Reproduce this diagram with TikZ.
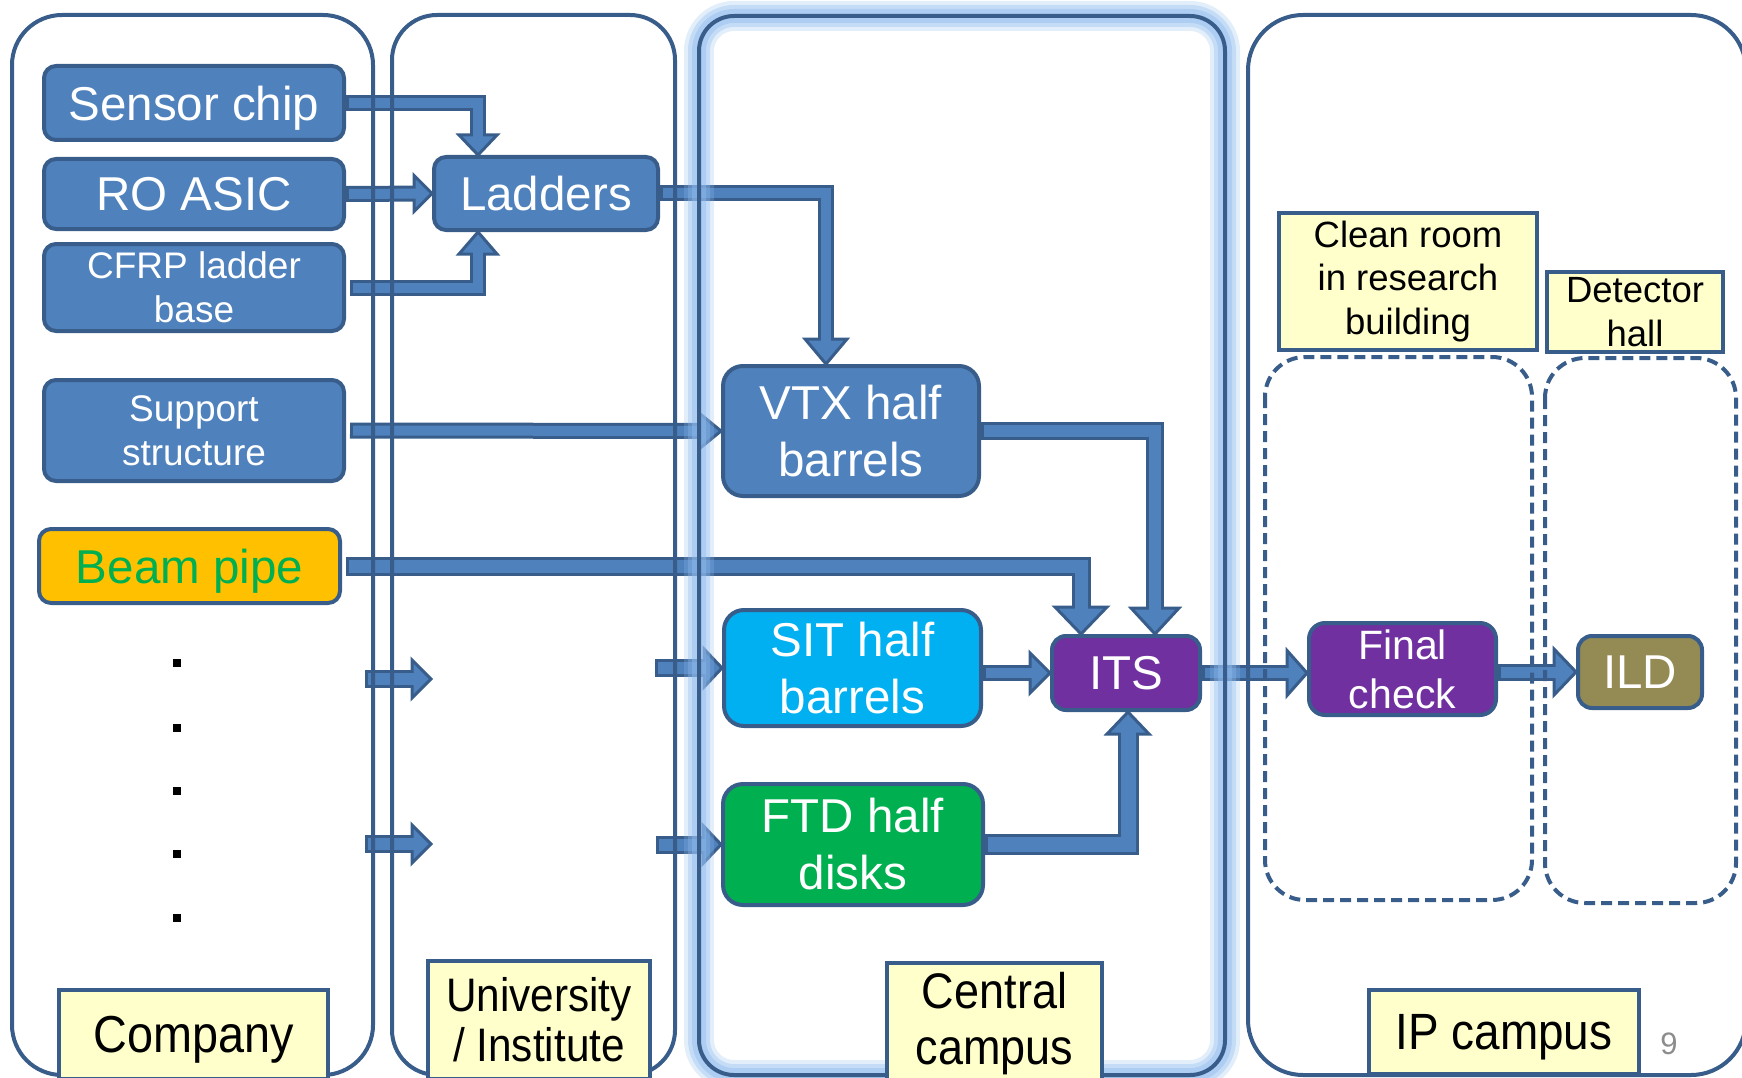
\documentclass[tikz,border=0pt]{standalone}
\usepackage{fontspec}
\setmainfont{Liberation Sans}
\newfontfamily\tagfont[FakeStretch=0.9]{Liberation Sans}
\usetikzlibrary{calc}

\definecolor{edge}{HTML}{385D8A}
\definecolor{boxblue}{HTML}{4F81BD}
\definecolor{sitfill}{HTML}{00B0F0}
\definecolor{ftdfill}{HTML}{00B050}
\definecolor{purp}{HTML}{7030A0}
\definecolor{ildfill}{HTML}{948A54}
\definecolor{beamfill}{HTML}{FFC000}
\definecolor{beamtext}{HTML}{00B050}
\definecolor{tagfill}{HTML}{FFFFCC}
\definecolor{glowblue}{HTML}{8FBBEE}
\definecolor{numgray}{HTML}{8C8C8C}

\tikzset{
  blk/.style={draw=edge, line width=4pt, fill=boxblue, text=white, inner sep=0pt,
    align=center, rounded corners=12pt},
  big/.style={font=\fontsize{47.5}{57}\selectfont},
  mid/.style={font=\fontsize{37}{44}\selectfont},
  one/.style={text depth=0pt},
  panel/.style={draw=edge, line width=4pt},
  zone/.style={draw=edge, line width=4pt, dash pattern=on 11pt off 6pt, rounded corners=40pt},
  tag/.style={draw=edge, line width=4pt, fill=tagfill, text=black, inner sep=0pt, align=center},
  shaftedge/.style={draw=edge, line join=miter, line cap=butt},
  shaftcore/.style={draw=boxblue, line join=miter, line cap=butt},
  headshape/.style={draw=edge, fill=boxblue, line width=3pt, line join=miter},
  glow/.style={draw=glowblue, rounded corners=35pt},
}

% Block arrow: #1 route, #2 tip point, #3 direction angle,
% #4 shaft width, #5 head width, #6 head length
\newcommand\flowarrow[6]{%
  \pgfmathsetmacro\arinner{#4-6}%
  \pgfmathsetmacro\arback{#6-0.5}%
  \pgfmathsetmacro\arcore{#6-5}%
  \pgfmathsetmacro\arhalf{#5/2}%
  \draw[shaftedge, line width=#4pt, shorten >=\arback pt] #1;
  \filldraw[headshape, shift={#2}, rotate=#3] (0,0) -- (-#6,\arhalf) -- (-#6,-\arhalf) -- cycle;
  \draw[shaftcore, line width=\arinner pt, shorten <=3pt, shorten >=\arcore pt] #1;
}

\begin{document}
\begin{tikzpicture}[x=1pt, y=-1pt]
\path[use as bounding box] (0,0) rectangle (1742,1078);
\clip (0,0) rectangle (1742,1078);

% component boxes
\node[blk, big, one, minimum width=300pt, minimum height=74pt] (sensor) at (194,103) {Sensor chip};
\node[blk, big, one, minimum width=300pt, minimum height=70pt] (roasic) at (194,194) {RO ASIC};
\node[blk, mid, minimum width=300pt, minimum height=87pt] (cfrp) at (194,287.5) {CFRP ladder\\base};
\node[blk, mid, minimum width=300pt, minimum height=101pt] (support) at (194,430.5) {Support\\structure};
\node[blk, big, one, fill=beamfill, text=beamtext, minimum width=301pt, minimum height=74pt] (beam) at (189.5,566) {Beam pipe};
\node[blk, big, one, minimum width=224pt, minimum height=73pt] (ladders) at (546,193.5) {Ladders};
\node[blk, big, rounded corners=20pt, minimum width=256pt, minimum height=130pt] (vtx) at (851,431) {VTX half\\barrels};
\node[blk, big, rounded corners=20pt, fill=sitfill, minimum width=257pt, minimum height=116pt] (sit) at (852.5,668) {SIT half\\barrels};
\node[blk, big, rounded corners=20pt, fill=ftdfill, minimum width=260pt, minimum height=121pt] (ftd) at (853,844.5) {FTD half\\disks};
\node[blk, big, one, rounded corners=14pt, fill=purp, minimum width=148pt, minimum height=74pt] (its) at (1126,673) {ITS};
\node[blk, font=\fontsize{41}{49}\selectfont, rounded corners=16pt, fill=purp, minimum width=187pt, minimum height=92pt] (final) at (1402.5,669) {Final\\check};
\node[blk, big, one, rounded corners=14pt, fill=ildfill, minimum width=124pt, minimum height=72pt] (ild) at (1640,672) {ILD};

% arrow end points
\coordinate (ladTop) at ($(ladders.north west)+(46,0)$);
\coordinate (ladBot) at ($(ladders.south west)+(46,0)$);
\coordinate (vtxTop) at ($(vtx.north west)+(105,0)$);
\coordinate (itsTopA) at ($(its.north west)+(31,0)$);
\coordinate (itsTopB) at ($(its.north west)+(105,0)$);
\coordinate (itsBot) at ($(its.south west)+(78,0)$);
\coordinate (cuA) at (365,679);
\coordinate (cuB) at (431,679);
\coordinate (cuC) at (365,844);
\coordinate (cuD) at (431,844);
\coordinate (sitIn) at ($(sit.west)+(-67,0)$);
\coordinate (ftdIn) at ($(ftd.west)+(-65,0)$);

% flow arrows
\flowarrow{(sensor.east) -| (ladTop)}{(ladTop)}{-90}{16}{38}{20}
\flowarrow{(roasic.east) -- (ladders.west)}{(ladders.west)}{0}{16}{36}{18}
\flowarrow{($(cfrp.east)+(4,0)$) -| (ladBot)}{(ladBot)}{90}{16}{38}{22}
\flowarrow{(ladders.east) -| (vtxTop)}{(vtxTop)}{-90}{16}{42}{25}
\flowarrow{($(support.east)+(4,0)$) -- (vtx.west)}{(vtx.west)}{0}{16}{36}{22}
\flowarrow{(vtx.east) -| (itsTopB)}{(itsTopB)}{-90}{18}{48}{26}
\flowarrow{($(beam.east)+(4,0)$) -| (itsTopA)}{(itsTopA)}{-90}{19}{52}{27}
\flowarrow{(sit.east |- its.west) -- (its.west)}{(its.west)}{0}{16}{40}{20}
\flowarrow{(ftd.east) -| (itsBot)}{(itsBot)}{90}{21}{42}{22}
\flowarrow{(its.east) -- (its.east -| final.west)}{(its.east -| final.west)}{0}{16}{45}{20}
\flowarrow{(final.east |- ild.west) -- (ild.west)}{(ild.west)}{0}{17}{46}{22}
\flowarrow{(cuA) -- (cuB)}{(cuB)}{0}{18}{38}{19}
\flowarrow{(cuC) -- (cuD)}{(cuD)}{0}{18}{38}{19}
\flowarrow{(sitIn) -- (sit.west)}{(sit.west)}{0}{18}{38}{18}
\flowarrow{(ftdIn) -- (ftd.west)}{(ftd.west)}{0}{18}{38}{18}

% site panels
\draw[panel, rounded corners=50pt] (12,15) rectangle (373,1075);
\draw[panel, rounded corners=45pt] (392,15) rectangle (675,1075);
\draw[glow, line width=30pt, draw opacity=0.25] (699,16) rectangle (1225,1075);
\draw[glow, line width=22pt, draw opacity=0.35] (699,16) rectangle (1225,1075);
\draw[glow, line width=14pt, draw opacity=0.45] (699,16) rectangle (1225,1075);
\draw[panel, rounded corners=35pt] (699,16) rectangle (1225,1075);
\draw[panel, rounded corners=55pt] (1248,15) rectangle (1746,1075);

% rooms on the IP campus
\draw[zone] (1265,357) rectangle (1532,900);
\draw[zone] (1545,358) rectangle (1736,903);

% place labels
\node[tag, font=\fontsize{36.5}{43.5}\selectfont, minimum width=258pt, minimum height=137pt] (lclean) at (1408,281.5) {Clean room\\in research\\building};
\node[tag, font=\fontsize{36.5}{43.5}\selectfont, minimum width=176pt, minimum height=80pt] (ldet) at (1635,312) {Detector\\hall};
\node[tag, one, font=\tagfont\fontsize{52}{60}\selectfont, minimum width=269pt, minimum height=89pt] (lcompany) at (193.5,1034.5) {Company};
\node[tag, font=\tagfont\fontsize{47}{50}\selectfont, minimum width=222pt, minimum height=118pt] (luniv) at (539,1020) {University\\/ Institute};
\node[tag, font=\tagfont\fontsize{50}{56}\selectfont, minimum width=215pt, minimum height=122pt] (lcentral) at (994.5,1024) {Central\\campus};
\node[tag, one, font=\tagfont\fontsize{51}{60}\selectfont, minimum width=270pt, minimum height=84pt] (lip) at (1504,1032) {IP campus};

% continuation dots
\foreach \yy in {663,728,791,854,918}
  \fill (173,{\yy-4}) rectangle (181,{\yy+4});

% page number
\node[text=numgray, font=\fontsize{31}{31}\selectfont] (pagenum) at (1669,1044) {9};
\end{tikzpicture}
\end{document}
